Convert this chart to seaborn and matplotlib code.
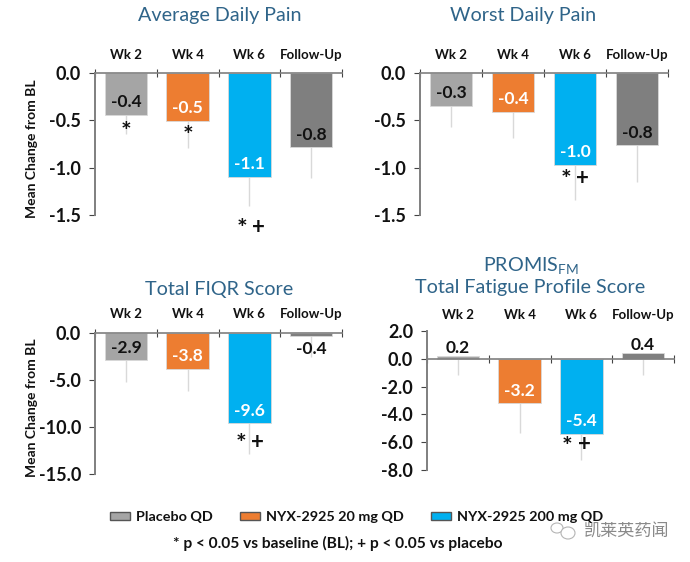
# Load packages
import pandas as pd
import matplotlib.pyplot as plt
from matplotlib.patches import Patch, Ellipse
import seaborn as sns

sns.set_theme(style='white')
plt.rcParams['font.family'] = ['Lato', 'DejaVu Sans']
plt.rcParams['mathtext.default'] = 'regular'

W, H = 690, 562

# Chart values
visits = ['Wk 2', 'Wk 4', 'Wk 6', 'Follow-Up']

avg_pain = [-0.44, -0.505, -1.095, -0.786]
avg_pain_low = [-0.64, -0.796, -1.41, -1.11]
worst_pain = [-0.345, -0.408, -0.97, -0.764]
worst_pain_low = [-0.57, -0.687, -1.34, -1.15]
fiqr = [-2.9, -3.8, -9.6, -0.36]
fiqr_low = [-5.26, -6.2, -12.9, -2.56]
fatigue = [0.2, -3.2, -5.4, 0.4]
fatigue_low = [-1.2, -5.34, -7.26, -1.15]

avg_ticks = [0.0, -0.5, -1.0, -1.5]
worst_ticks = [0.0, -0.5, -1.0, -1.5]
fiqr_ticks = [0.0, -5.0, -10.0, -15.0]
fatigue_ticks = [2.0, 0.0, -2.0, -4.0, -6.0, -8.0]

# significance marks: (symbol, x in category units, y in data units)
avg_marks = [('*', 0, -0.55), ('*', 1, -0.60), ('*', 1.88, -1.58), ('+', 2.15, -1.63)]
worst_marks = [('*', 1.85, -1.06), ('+', 2.12, -1.116)]
fiqr_marks = [('*', 1.86, -11.1), ('+', 2.13, -11.6)]
fatigue_marks = [('*', 1.775, -5.87), ('+', 2.05, -6.2)]

bar_colors = ['#A5A5A5', '#ED7D31', '#00B0F0', '#7F7F7F']
label_colors = ['#111111', 'white', 'white', '#111111']
title_color = '#2F6489'
axis_color = '#7f7f7f'

fig = plt.figure(figsize=(W / 100, H / 100), dpi=100)
fig.patch.set_facecolor('white')


def add_panel(box, values, low, ticks, marks, label_pad=9):
    # box is left, top, right, bottom in pixels
    left, top, right, bottom = box
    ax = fig.add_axes([left / W, 1 - bottom / H, (right - left) / W, (bottom - top) / H])
    df = pd.DataFrame({'visit': visits, 'value': values})
    ax.vlines(range(4), values, low, color='#D9D9D9', lw=1, zorder=1)
    sns.barplot(data=df, x='visit', y='value', hue='visit', palette=bar_colors, legend=False,
                width=0.69, saturation=1, edgecolor='#D9D9D9', linewidth=0.6, zorder=2, ax=ax)
    ax.set_xlim(-0.5, 3.5)
    ax.set_ylim(min(ticks), max(ticks))
    ax.set_yticks(ticks)
    ax.set_yticklabels([f'{t:.1f}' for t in ticks], fontweight='bold', fontsize=13, color='#111111')
    ax.set_xlabel('')
    ax.set_ylabel('')
    ax.patch.set_alpha(0)

    # category axis sits on the zero line, labels go above it
    for side in ['right', 'bottom']:
        ax.spines[side].set_visible(False)
    ax.spines['top'].set_visible(True)
    ax.spines['top'].set_position(('data', 0))
    ax.spines['top'].set_color(axis_color)
    ax.spines['top'].set_linewidth(1.2)
    ax.spines['left'].set_color(axis_color)
    ax.spines['left'].set_linewidth(1.4)
    ax.xaxis.tick_top()
    ax.set_xticks([-0.5, 0.5, 1.5, 2.5, 3.5], minor=True)
    ax.tick_params(axis='x', which='minor', direction='inout', length=6, width=0.8,
                   color='#444444', top=True, bottom=False)
    ax.tick_params(axis='x', which='major', length=0, pad=label_pad)
    ax.set_xticks(range(4))
    ax.set_xticklabels(visits, fontweight='bold', fontsize=9.5, color='#111111')
    ax.tick_params(axis='y', which='major', direction='out', length=4, width=0.8,
                   color='#444444', left=True, pad=6)

    for i, v in enumerate(values):
        # small bars carry the label outside the bar
        if abs(v) < 0.25 * max(abs(t) for t in ticks) and v > 0:
            offset, color = 6, '#111111'
        elif ticks[-1] == -15.0 and i == 3:
            offset, color = -9, '#111111'
        else:
            offset, color = 9, label_colors[i]
        ax.annotate(f'{v:.1f}', (i, v), xytext=(0, offset), textcoords='offset points',
                    ha='center', va='center', fontsize=12.5, fontweight='bold', color=color, zorder=4)
    for sym, x, y in marks:
        # the asterisk glyph sits high in its line, so pull it down a little
        shift, size = (-5, 18) if sym == '*' else (0, 16)
        ax.annotate(sym, (x, y), xytext=(0, shift), textcoords='offset points', ha='center', va='center',
                    fontsize=size, fontweight='bold', color='#111111', annotation_clip=False, zorder=5)
    return ax


ax1 = add_panel((95, 73, 342, 215), avg_pain, avg_pain_low, avg_ticks, avg_marks)
ax2 = add_panel((420, 73, 668, 215), worst_pain, worst_pain_low, worst_ticks, worst_marks)
ax3 = add_panel((95, 333, 342, 474), fiqr, fiqr_low, fiqr_ticks, fiqr_marks)
ax4 = add_panel((427, 331, 674, 470), fatigue, fatigue_low, fatigue_ticks, fatigue_marks, label_pad=27)

for ax in [ax1, ax3]:
    ax.set_ylabel('Mean Change from BL', fontweight='bold', fontsize=10, color='#111111')
    ax.yaxis.set_label_coords((38 - 95) / 247, 0.47)


def px_text(x, y, s, **kw):
    fig.text(x / W, 1 - y / H, s, ha='center', va='center', **kw)


title_kw = dict(fontsize=14.2, color=title_color)
px_text(220, 16, 'Average Daily Pain', **title_kw)
px_text(523, 15, 'Worst Daily Pain', **title_kw)
px_text(219, 289, 'Total FIQR Score', **title_kw)
px_text(531, 265, 'PROMIS$_{FM}$', **title_kw)
px_text(530, 288, 'Total Fatigue Profile Score', **title_kw)

handles = [Patch(facecolor=bar_colors[0], edgecolor='#555555', label='Placebo QD'),
           Patch(facecolor=bar_colors[1], edgecolor='#555555', label='NYX-2925 20 mg QD'),
           Patch(facecolor=bar_colors[2], edgecolor='#555555', label='NYX-2925 200 mg QD')]
fig.legend(handles=handles, ncol=3, frameon=False, loc='center', bbox_to_anchor=(356.5 / W, 1 - 517 / H),
           prop={'weight': 'bold', 'size': 10.4}, handlelength=1.35, handleheight=0.5,
           columnspacing=1.94, handletextpad=0.4, labelcolor='#111111')
px_text(338, 543, '* p < 0.05 vs baseline (BL); + p < 0.05 vs placebo',
        fontsize=11.2, fontweight='bold', color='#111111')

# watermark
px_text(626, 532, '凯莱英药闻', family=['Noto Sans CJK SC', 'DejaVu Sans'], fontsize=12.3, color='#8a8a8a')
for x, y, w, h in [(557, 528, 12, 10), (568, 533, 14, 12)]:
    fig.add_artist(Ellipse((x / W, 1 - y / H), w / W, h / H, transform=fig.transFigure,
                           facecolor='white', edgecolor='#b5b5b5', lw=0.8))

fig.savefig('out.png', dpi=100)
